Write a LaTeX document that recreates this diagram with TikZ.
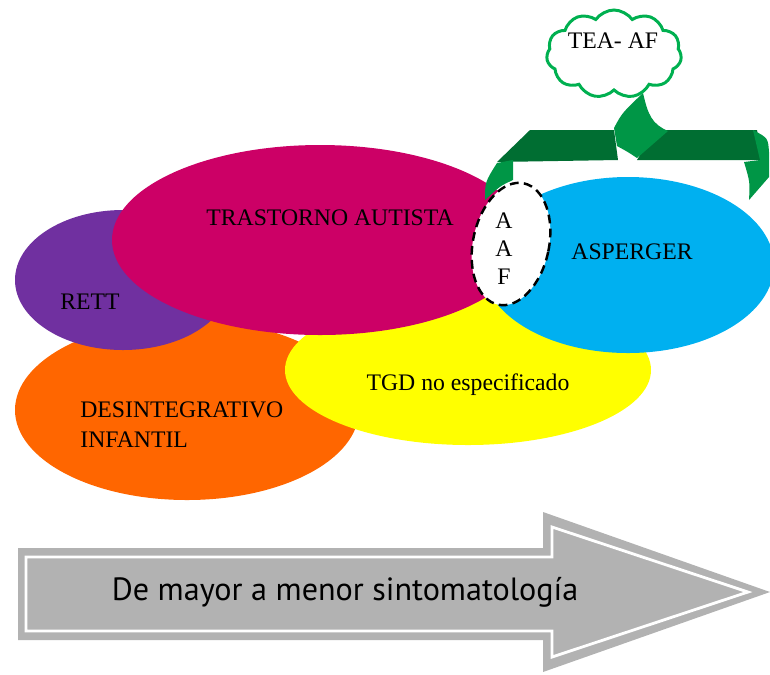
\documentclass[tikz,border=0pt]{standalone}
\usepackage{fontspec}
\setmainfont{Liberation Serif}
\newfontfamily\flechafont{PT Sans}
\usetikzlibrary{shapes.symbols}

\definecolor{colautista}{RGB}{204,0,102}
\definecolor{colrett}{RGB}{112,48,160}
\definecolor{coldesint}{RGB}{255,102,0}
\definecolor{coltgd}{RGB}{255,255,0}
\definecolor{colasperger}{RGB}{0,176,240}
\definecolor{verdeosc}{RGB}{0,110,50}
\definecolor{verdeclaro}{RGB}{0,150,70}
\definecolor{verdenube}{RGB}{0,176,80}
\definecolor{grisflecha}{RGB}{178,178,178}

\begin{document}
\begin{tikzpicture}[
			x=0.02cm, y=-0.02cm,
			etiqueta/.style={font=\fontsize{13.5}{16}\selectfont, text=black, inner sep=0pt},
			aafborde/.style={fill=white, draw=black, line width=1.4pt, dash pattern=on 5pt off 3pt},
			nube/.style={cloud, cloud puffs=11, cloud puff arc=110, aspect=1.5, draw=verdenube, line width=1.7pt, fill=white, minimum width=135*0.02cm, minimum height=88*0.02cm}
		]
		\useasboundingbox (0,0) rectangle (770,674);

		% los trastornos
		\fill[coldesint] (187,410) ellipse [x radius=172, y radius=90];
		\fill[colrett] (123,280) ellipse [x radius=108, y radius=70];
		\fill[coltgd] (468,370) ellipse [x radius=183, y radius=75];
		\fill[colasperger] (628,265) ellipse [x radius=146, y radius=88];
		\fill[colautista] (320,240) ellipse [x radius=208, y radius=95];
		\draw[aafborde, rotate around={-12:(511,244)}] (511,244) ellipse [x radius=38, y radius=62];

		\node[etiqueta] (trastorno) at (330,218) {TRASTORNO AUTISTA};
		\node[etiqueta] (rett) at (90,302) {RETT};
		\node[etiqueta, align=left, anchor=west, font=\fontsize{13.5}{17}\selectfont] (desint) at (80,425) {DESINTEGRATIVO\\INFANTIL};
		\node[etiqueta] (tgd) at (468,385) {TGD no especificado};
		\node[etiqueta] (asperger) at (632,252) {ASPERGER};
		\node[etiqueta, align=center, font=\fontsize{13.5}{16}\selectfont] (aaf) at (504,249) {A\\A\\F};

		% llave verde
		\fill[verdeosc] (530,130) -- (614,130) -- (618,160) -- (497,162) -- cycle;
		\fill[verdeosc] (655,130) -- (757,130) -- (762,160) -- (637,160) -- cycle;
		\fill[verdeclaro] (485,200) .. controls (485,182) .. (497,163) -- (513,160) -- (513,180) .. controls (500,186) .. (485,200) -- cycle;
		\fill[verdeclaro] (614,128) .. controls (622,113) .. (643,93) .. controls (648,115) and (652,124) .. (668,131) -- (637,158) .. controls (628,152) .. (617,146) -- cycle;
		\fill[verdeclaro] (753,130) .. controls (768,138) .. (769,152) -- (769,177) -- (749,200) .. controls (750,182) .. (744,162) -- (760,160) -- cycle;

		\node[nube] (nubetea) at (614,54) {};
		\node[etiqueta] (tea) at (613,41) {TEA- AF};

		% flecha
		\fill[grisflecha] (18,548) -- (543,548) -- (543,512) -- (770,592) -- (543,672) -- (543,640) -- (18,640) -- cycle;
		\draw[white, line width=1.6pt] (26,557) -- (552,557) -- (552,527) -- (748,592) -- (552,657) -- (552,631) -- (26,631) -- cycle;
		\node[font=\flechafont\fontsize{18.3}{20}\selectfont, inner sep=0pt] (sinto) at (345,592) {De mayor a menor sintomatología};
	\end{tikzpicture}
\end{document}
